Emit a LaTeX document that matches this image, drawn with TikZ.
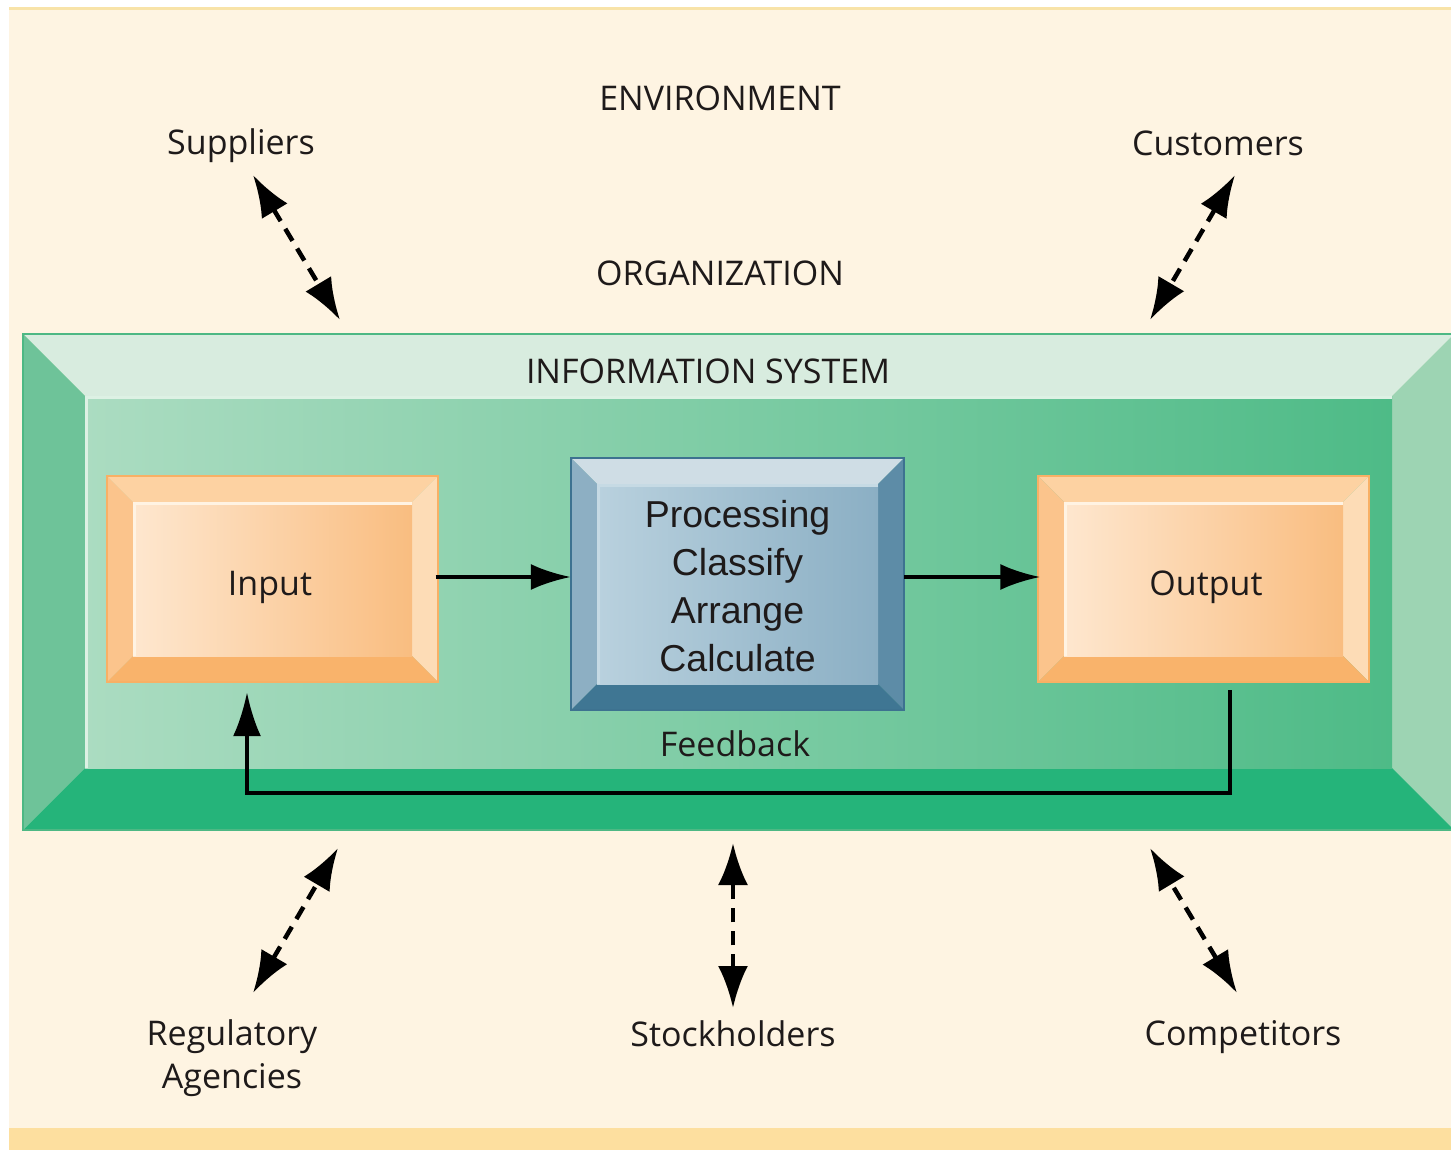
\documentclass[tikz,border=0pt]{standalone}
\usepackage{fontspec}
\setmainfont{Open Sans}
\newfontfamily\procfont{Liberation Sans}
\usepackage{xcolor}
\usetikzlibrary{arrows.meta,positioning,calc}

\definecolor{cream}{HTML}{FEF4E2}
\definecolor{topline}{HTML}{F8E3A8}
\definecolor{band}{HTML}{FDDF9F}
\definecolor{inktext}{HTML}{1E1A1A}
% frame colours
\definecolor{frmtop}{HTML}{D8ECDF}
\definecolor{frmleft}{HTML}{6EC399}
\definecolor{frmright}{HTML}{9DD4B3}
\definecolor{frmbot}{HTML}{25B47A}
\definecolor{frmfl}{HTML}{ABDCC1}
\definecolor{frmfr}{HTML}{4EBB87}
\definecolor{frmedge}{HTML}{4DB884}
\definecolor{frmhl}{HTML}{DDF1E4}
% orange boxes
\definecolor{orgtop}{HTML}{FDD2A2}
\definecolor{orgleft}{HTML}{FBC48C}
\definecolor{orgright}{HTML}{FDDCB6}
\definecolor{orgbot}{HTML}{F9B36B}
\definecolor{orgfl}{HTML}{FEE7CF}
\definecolor{orgfr}{HTML}{F9BD80}
\definecolor{orgedge}{HTML}{F8B065}
\definecolor{orghl}{HTML}{FFF3E3}
% blue box
\definecolor{blutop}{HTML}{CFDDE5}
\definecolor{bluleft}{HTML}{8DAFC3}
\definecolor{bluright}{HTML}{5D8CA7}
\definecolor{blubot}{HTML}{3F7693}
\definecolor{blufl}{HTML}{B9D1DE}
\definecolor{blufr}{HTML}{8BAFC4}
\definecolor{bluedge}{HTML}{3D7290}
\definecolor{bluhl}{HTML}{C6DAE4}

% #1,#2 top left  #3,#4 bottom right  #5 bevel  #6 colour prefix
\newcommand{\bevelbox}[6]{%
  \fill[#6top] (#1,#2) -- (#3,#2) -- (#3-#5,#2+#5) -- (#1+#5,#2+#5) -- cycle;
  \fill[#6left] (#1,#2) -- (#1+#5,#2+#5) -- (#1+#5,#4-#5) -- (#1,#4) -- cycle;
  \fill[#6right] (#3,#2) -- (#3,#4) -- (#3-#5,#4-#5) -- (#3-#5,#2+#5) -- cycle;
  \fill[#6bot] (#1,#4) -- (#1+#5,#4-#5) -- (#3-#5,#4-#5) -- (#3,#4) -- cycle;
  \shade[left color=#6fl, right color=#6fr] (#1+#5,#2+#5) rectangle (#3-#5,#4-#5);
  \draw[#6hl, line width=3pt] (#1+#5+1.5,#4-#5) -- (#1+#5+1.5,#2+#5+1.5) -- (#3-#5,#2+#5+1.5);
  \draw[#6edge, line width=2pt] (#1,#2) rectangle (#3,#4);
}

\tikzset{
  lbl/.style={font=\fontsize{34}{43}\selectfont, text=inktext, align=center, inner sep=0pt},
  proclbl/.style={font=\procfont\fontsize{37.5}{48}\selectfont, text=inktext, align=center, inner sep=0pt},
  dasharrow/.style={line width=4.5pt, dash pattern=on 14pt off 9pt,
    {Latex[length=42pt,width=30pt]}-{Latex[length=42pt,width=30pt]}},
  flowarrow/.style={line width=4pt, -{Latex[length=40pt,width=26pt]}},
  fbarrow/.style={line width=4pt, -{Latex[length=44pt,width=28pt]}}
}

\begin{document}
\begin{tikzpicture}[x=1pt, y=-1pt]
\useasboundingbox (0,0) rectangle (1451,1150);
\fill[white] (0,0) rectangle (1451,1150);
\fill[cream] (9,7) rectangle (1451,1150);
\fill[topline] (9,7) rectangle (1451,10);
\fill[band] (9,1128) rectangle (1451,1150);

% organization frame and boxes
\bevelbox{23}{334}{1454}{830}{62}{frm}
\bevelbox{107}{476}{438}{682}{26}{org}
\bevelbox{1038}{476}{1369}{682}{26}{org}
\bevelbox{571}{458}{904}{710}{26}{blu}

\node[lbl] (env) at (720,98) {ENVIRONMENT};
\node[lbl] (orgn) at (720,273) {ORGANIZATION};
\node[lbl] (isys) at (708,371) {INFORMATION SYSTEM};

\node[lbl, minimum width=331pt, minimum height=206pt] (inp) at (270,587) {Input};
\node[lbl, minimum width=331pt, minimum height=206pt] (outp) at (1206,587) {Output};
\node[proclbl, minimum width=333pt, minimum height=252pt] (proc) at (737.5,586)
  {Processing\\Classify\\Arrange\\Calculate};
\node[lbl] (fbl) at (735,744) {Feedback};

\draw[flowarrow] (inp.east |- 0,577) -- (proc.west |- 0,577);
\draw[flowarrow] (proc.east |- 0,577) -- (outp.west |- 0,577);

\coordinate (fb) at (735,793);
\draw[fbarrow] ([xshift=24pt,yshift=0pt]outp.south) |- (fb) -| ([xshift=-23pt,yshift=-2pt]inp.south);

% environment
\node[lbl] (sup) at (241,146) {Suppliers};
\node[lbl] (cus) at (1218,143) {Customers};
\node[lbl] (reg) at (232,1058) {Regulatory\\Agencies};
\node[lbl] (sto) at (733,1034) {Stockholders};
\node[lbl] (com) at (1243,1037) {Competitors};

\coordinate (supend) at (340,320);
\coordinate (cusend) at (1150,320);
\coordinate (regend) at (338,848);
\coordinate (stoend) at (733,843);
\coordinate (comend) at (1150,848);

\draw[dasharrow] ($(sup)+(12,29)$) -- (supend);
\draw[dasharrow] ($(cus)+(17,32)$) -- (cusend);
\draw[dasharrow] ($(reg)+(21,-65)$) -- (regend);
\draw[dasharrow] ($(sto)+(0,-26)$) -- (stoend);
\draw[dasharrow] ($(com)+(-6,-44)$) -- (comend);
\end{tikzpicture}
\end{document}
